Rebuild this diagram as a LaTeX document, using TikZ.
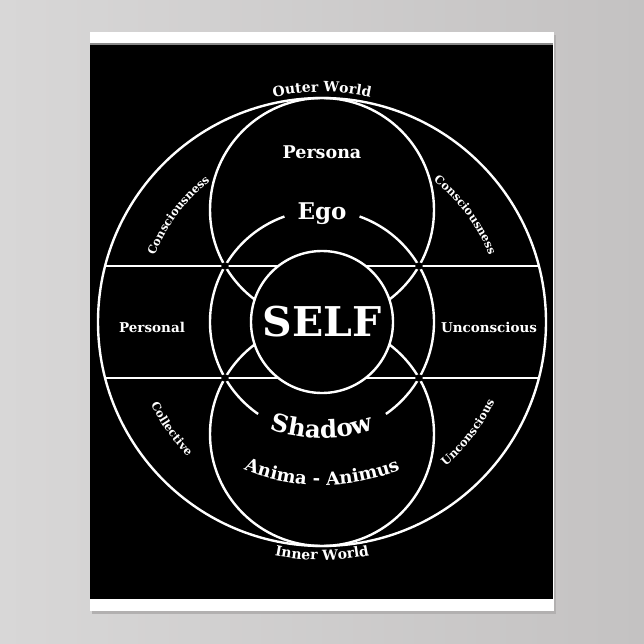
\documentclass[tikz,border=0pt]{standalone}
\usepackage{fontspec}
\setmainfont{DejaVu Serif}
\usetikzlibrary{decorations.text}
\definecolor{bgL}{HTML}{D8D7D7}
\definecolor{bgR}{HTML}{C4C2C2}
\definecolor{shadowc}{HTML}{B2B0B0}
\definecolor{edgec}{HTML}{8A8A8A}
\begin{document}
\begin{tikzpicture}[x=1pt,y=1pt,
  wline/.style={draw=white,line width=2.4pt},
  lbl/.style={text=white,inner sep=0pt},
  crossdot/.style={fill=black},
  curved/.style={decorate,decoration={text along path,text align=center,text color=white,text={#1}}}
]
\useasboundingbox (0,0) rectangle (644,-644);
\shade[left color=bgL,right color=bgR] (0,0) rectangle (644,-644);
\fill[shadowc] (92,-35) rectangle (556,-614);
\fill[white] (90,-32) rectangle (554,-611);
\fill[edgec] (90,-43.5) rectangle (553,-45);
\fill[black] (90,-45) rectangle (553,-599);

\coordinate (c) at (322,-322);
\coordinate (cp) at (322,-210);
\coordinate (ca) at (322,-434);
\coordinate (hl1) at (105.1,-266);
\coordinate (hr1) at (538.9,-266);
\coordinate (hl2) at (105.1,-378);
\coordinate (hr2) at (538.9,-378);

% outer circle
\draw[wline] (c) circle[radius=224pt];
% horizontal lines
\draw[wline] (hl1) -- (hr1);
\draw[wline] (hl2) -- (hr2);
% persona and anima circles
\draw[wline] (cp) circle[radius=112pt];
\draw[wline] (ca) circle[radius=112pt];
% ego circle with gaps
\draw[wline,shift={(322,-322)}] (109.6:112pt) arc[start angle=109.6,end angle=235.2,radius=112pt];
\draw[wline,shift={(322,-322)}] (-55.2:112pt) arc[start angle=-55.2,end angle=70.4,radius=112pt];
% crossing dots
\fill[crossdot] (225,-266) circle[radius=3.8pt];
\fill[crossdot] (419,-266) circle[radius=3.8pt];
\fill[crossdot] (225,-378) circle[radius=3.8pt];
\fill[crossdot] (419,-378) circle[radius=3.8pt];
% self circle
\draw[wline,fill=black] (c) circle[radius=71pt];

% straight labels
\node[lbl,font=\bfseries\fontsize{41}{45}\selectfont] (self) at (322,-322) {SELF};
\node[lbl,anchor=base,font=\bfseries\fontsize{17.5}{20}\selectfont] (persona) at (322,-159) {Persona};
\node[lbl,anchor=base,font=\bfseries\fontsize{23}{26}\selectfont] (ego) at (322,-219) {Ego};
\node[lbl,anchor=base,font=\bfseries\fontsize{13.5}{16}\selectfont] (personal) at (152,-332) {Personal};
\node[lbl,anchor=base,font=\bfseries\fontsize{13.5}{16}\selectfont] (unconsc) at (489,-332) {Unconscious};

% curved labels
\path[curved={|\bfseries\fontsize{14}{16}\selectfont|Outer World},shift={(322,-322)}] (140:230pt) arc[start angle=140,end angle=40,radius=230pt];
\path[curved={|\bfseries\fontsize{14}{16}\selectfont|Inner World},shift={(322,-322)}] (225:238pt) arc[start angle=225,end angle=315,radius=238pt];
\path[curved={|\bfseries\fontsize{11.5}{14}\selectfont|Consciousness},shift={(322,-322)}] (183.4:180pt) arc[start angle=183.4,end angle=103.4,radius=180pt];
\path[curved={|\bfseries\fontsize{11.5}{14}\selectfont|Consciousness},shift={(322,-322)}] (76.8:180pt) arc[start angle=76.8,end angle=-3.2,radius=180pt];
\path[curved={|\bfseries\fontsize{11.5}{14}\selectfont|Collective},shift={(322,-322)}] (175.4:190pt) arc[start angle=175.4,end angle=255.4,radius=190pt];
\path[curved={|\bfseries\fontsize{11.5}{14}\selectfont|Unconscious},shift={(322,-322)}] (282.9:190pt) arc[start angle=282.9,end angle=362.9,radius=190pt];
\path[curved={|\bfseries\fontsize{24.5}{28}\selectfont|Shadow},shift={(322,-280)}] (235:158pt) arc[start angle=235,end angle=305,radius=158pt];
\path[curved={|\bfseries\fontsize{18}{21}\selectfont|Anima - Animus},shift={(322,-277)}] (240:208pt) arc[start angle=240,end angle=300,radius=208pt];
\end{tikzpicture}
\end{document}
